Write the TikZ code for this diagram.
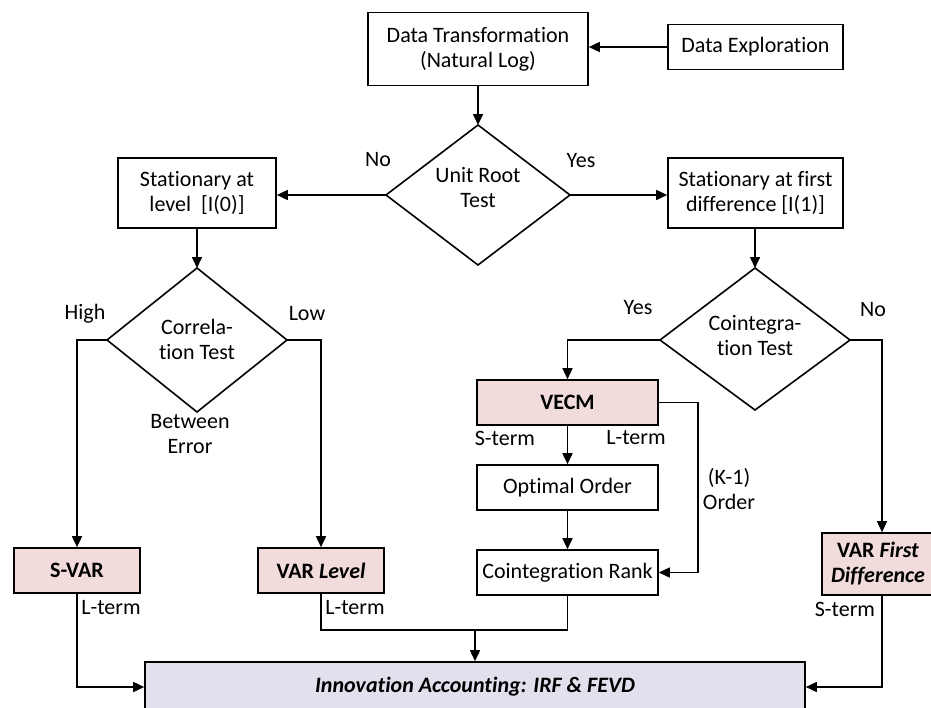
\documentclass[tikz,border=0pt]{standalone}
\usepackage{fontspec}
\setmainfont[Ligatures=NoCommon]{Carlito}
\usetikzlibrary{shapes.geometric,arrows.meta}
\definecolor{pinkf}{HTML}{F2DCDB}
\definecolor{lavf}{HTML}{E4DFEC}
\tikzset{
  every node/.style={font=\fontsize{22}{25}\selectfont},
  box/.style={draw, line width=1.6pt, align=center, inner sep=0pt},
  lbl/.style={align=center, inner sep=0pt},
  conn/.style={line width=1.6pt, -{Triangle[length=11pt,width=10pt]}},
  plain/.style={line width=1.6pt},
  dline/.style={draw, line width=1.6pt},
  boldtxt/.style={font=\fontsize{22}{25}\selectfont\bfseries},
}
\begin{document}
\begin{tikzpicture}[x=1pt,y=-1pt]
\useasboundingbox (0,0) rectangle (931,707);
% top
\node[box, minimum width=220pt, minimum height=73pt] (dt) at (478,49) {Data Transformation\\(Natural Log)};
\node[box, minimum width=175pt, minimum height=45pt] (de) at (755.5,47) {Data Exploration};
% unit root diamond
\path[dline] (386,195) coordinate (urL) -- (478,125) coordinate (urT) -- (570,195) coordinate (urR) -- (478,265) coordinate (urB) -- cycle;
\node[lbl] (urt) at (478,188) {Unit Root\\Test};
\node[box, minimum width=158pt, minimum height=70pt] (sl) at (197,193) {Stationary at\\level\ \ [I(0)]};
\node[box, minimum width=175pt, minimum height=70pt] (sf) at (755.5,193) {Stationary at first\\difference [I(1)]};
\node[lbl] (no1) at (378,160) {No};
\node[lbl] (yes1) at (581,161) {Yes};
% correlation diamond
\path[dline] (107,340) coordinate (crL) -- (197,268) coordinate (crT) -- (287,340) coordinate (crR) -- (197,412) coordinate (crB) -- cycle;
\node[lbl] (crt) at (197,339) {Correla-\\tion Test};
\node[lbl] (high) at (85,314) {High};
\node[lbl] (low) at (307,314) {Low};
\node[lbl] (be) at (190,434) {Between\\Error};
% cointegration diamond
\path[dline] (660,340) coordinate (ciL) -- (755,268) coordinate (ciT) -- (850,340) coordinate (ciR) -- (755,410) coordinate (ciB) -- cycle;
\node[lbl] (cit) at (755,336) {Cointegra-\\tion Test};
\node[lbl] (yes2) at (638,308) {Yes};
\node[lbl] (no2) at (873,310) {No};
% result boxes
\node[box, fill=pinkf, minimum width=126pt, minimum height=45pt, boldtxt] (svar) at (77,570.5) {S-VAR};
\node[box, fill=pinkf, minimum width=126pt, minimum height=45pt, boldtxt] (vl) at (321,570.5) {VAR \textit{Level}};
\node[box, fill=pinkf, minimum width=181pt, minimum height=45pt, boldtxt] (vecm) at (567.5,402.5) {VECM};
\node[box, minimum width=181pt, minimum height=45pt] (oo) at (567.5,487.5) {Optimal Order};
\node[box, minimum width=181pt, minimum height=45pt] (cr) at (567.5,572.5) {Cointegration Rank};
\node[box, fill=pinkf, minimum width=112pt, minimum height=62pt, boldtxt] (vfd) at (878,564) {VAR \textit{First}\\\textit{Difference}};
\node[box, fill=lavf, minimum width=660pt, minimum height=50pt, font=\fontsize{22}{25}\selectfont\bfseries\itshape] (ia) at (475,687) {Innovation Accounting: IRF \& FEVD};
% small labels
\node[lbl] (st1) at (505,438) {S-term};
\node[lbl] (lt1) at (636,438) {L-term};
\node[lbl] (k1) at (729,489) {(K-1)\\Order};
\node[lbl] (lt2) at (111,608) {L-term};
\node[lbl] (lt3) at (355,608) {L-term};
\node[lbl] (st2) at (845,609) {S-term};
% connectors
\draw[conn] (de.west) -- (dt.east |- de.west);
\draw[conn] (dt.south) -- (urT);
\draw[conn] (urL) -- (sl.east |- urL);
\draw[conn] (urR) -- (sf.west |- urR);
\draw[conn] (sl.south) -- (crT);
\draw[conn] (sf.south -| ciT) -- (ciT);
\draw[conn] (crL) -| (svar.north);
\draw[conn] (crR) -| (vl.north);
\draw[conn] (ciL) -| (vecm.north);
\draw[conn] (ciR) -| (vfd.north -| 882,0);
\draw[conn] (vecm.south) -- (oo.north);
\draw[conn] (oo.south) -- (cr.north);
\draw[conn] (vecm.east) -- (698,402.5) |- (cr.east);
\coordinate (join) at (475,630);
\draw[plain] (vl.south) |- (join);
\draw[plain] (cr.south) |- (join);
\draw[conn] (join) -- (ia.north);
\draw[conn] (svar.south) |- (ia.west |- 0,687);
\draw[conn] (vfd.south -| 882,0) |- (ia.east |- 0,687);
\end{tikzpicture}
\end{document}
